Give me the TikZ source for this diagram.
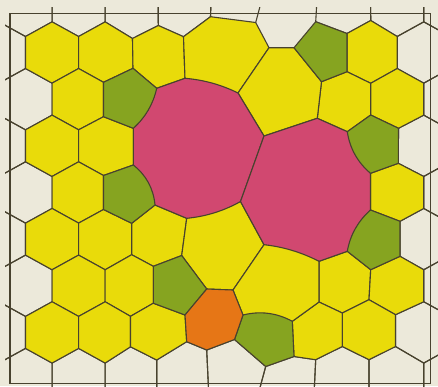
\documentclass[tikz,border=0pt]{standalone}
\definecolor{cCream}{RGB}{236,233,218}
\definecolor{cYel}{RGB}{233,219,10}
\definecolor{cGreen}{RGB}{134,164,32}
\definecolor{cPink}{RGB}{209,72,112}
\definecolor{cOrange}{RGB}{230,118,22}
\definecolor{cLine}{RGB}{72,66,46}
\newcommand\hexcell[3]{%
  \pgfmathtruncatemacro\hxK{2*#2+1-mod(#1+100,2)}%
  \pgfmathtruncatemacro\hxKa{\hxK-1}%
  \pgfmathtruncatemacro\hxKb{\hxK+1}%
  \pgfmathtruncatemacro\hxMa{2*#1-1}%
  \pgfmathtruncatemacro\hxMb{2*#1}%
  \pgfmathtruncatemacro\hxMc{2*#1+1}%
  \pgfmathtruncatemacro\hxMd{2*#1+2}%
  \path[#3] (v\hxK_\hxMa) -- (v\hxKb_\hxMb) -- (v\hxKb_\hxMc) -- (v\hxK_\hxMd) -- (v\hxKa_\hxMc) -- (v\hxKa_\hxMb) -- cycle;%
}
\begin{document}
\begin{tikzpicture}[x=1pt,y=-1pt,
  cell/.style={draw=cLine,line width=1.1pt,line join=round},
  wcell/.style={cell},
  ycell/.style={cell,fill=cYel},
  gcell/.style={cell,fill=cGreen},
  pcell/.style={cell,fill=cPink},
  ocell/.style={cell,fill=cOrange}]
\useasboundingbox (0,0) rectangle (438,386);
\fill[cCream] (0,0) rectangle (438,386);
% lattice vertices
\foreach \k in {-2,...,17}{
  \foreach \m in {-3,...,16}{
    \pgfmathsetmacro\xx{25.5+26.55*\k}
    \pgfmathtruncatemacro\hh{floor(\m/2)}
    \pgfmathsetmacro\yy{36.5+46.65*\hh+32*(\m-2*\hh)}
    \coordinate (v\k_\m) at (\xx,\yy);
  }
}
% distorted vertices
\coordinate (v5_-1) at (158.3,25.5);
\coordinate (v4_0) at (132.5,38.5);
\coordinate (v4_1) at (133,68.3);
\coordinate (v6_0) at (183.5,36.7);
\coordinate (v6_1) at (185,78.3);
\coordinate (v5_2) at (156.7,88.3);
\coordinate (v7_-1) at (210.5,16.7);
\coordinate (v9_-1) at (255.7,22.5);
\coordinate (v11_-1) at (315.7,21.7);
\coordinate (v12_0) at (347,33.5);
\coordinate (v12_1) at (347,71.7);
\coordinate (v13_-1) at (370.7,20.5);
\coordinate (v13_2) at (370.7,83.3);
\coordinate (v3_2) at (103.5,82.3);
\coordinate (v3_3) at (103.5,116.7);
\coordinate (v4_4) at (133.3,128.3);
\coordinate (v11_2) at (321.5,81.7);
\coordinate (v11_3) at (317.3,118.3);
\coordinate (v12_4) at (347.3,131.7);
\coordinate (v13_3) at (370.7,115);
\coordinate (v14_4) at (398.5,128.3);
\coordinate (v3_6) at (103.5,175.5);
\coordinate (v3_7) at (103.5,209.5);
\coordinate (v4_5) at (133.3,165);
\coordinate (v5_7) at (155,205);
\coordinate (v4_8) at (131.7,223.3);
\coordinate (v14_5) at (398.3,163.3);
\coordinate (v13_6) at (370.5,173.3);
\coordinate (v13_7) at (370.5,210);
\coordinate (v14_8) at (400,221.3);
\coordinate (v6_8) at (186.7,218.3);
\coordinate (v6_9) at (181.7,255.5);
\coordinate (v4_9) at (131.7,254.7);
\coordinate (v5_10) at (153.3,266.3);
\coordinate (v14_9) at (400,256.3);
\coordinate (v13_10) at (370.7,269.7);
\coordinate (v12_9) at (347.3,251.3);
\coordinate (v5_11) at (153.3,303.2);
\coordinate (v4_12) at (130.5,316.3);
\coordinate (v4_13) at (130.5,346.8);
\coordinate (v7_10) at (206.7,289);
\coordinate (v6_12) at (185,315);
\coordinate (v11_10) at (319,261.3);
\coordinate (v11_11) at (319,302);
\coordinate (v13_11) at (369,299.7);
\coordinate (v12_12) at (342.3,313);
\coordinate (v14_12) at (395.5,314.7);
\coordinate (v5_14) at (156.7,360);
\coordinate (v6_13) at (186.7,341.7);
\coordinate (v7_14) at (206.7,350);
\coordinate (v8_13) at (234.5,339.5);
\coordinate (v10_12) at (292.3,321.3);
\coordinate (v10_13) at (294,356.5);
\coordinate (v9_14) at (265.7,366.5);
\coordinate (v12_13) at (342.3,346.5);
\coordinate (v11_14) at (315.7,359.7);
\coordinate (v13_14) at (369,359.7);
\coordinate (v14_13) at (395.5,346.5);
\coordinate (v5_15) at (156.7,395);
\coordinate (v7_15) at (208.8,395);
\coordinate (v9_15) at (258,395);
\coordinate (v11_15) at (314,395);
\coordinate (v13_15) at (369,395);
% extra vertices
\coordinate (Pb) at (269,47.7);
\coordinate (Pc) at (238,93);
\coordinate (Pr) at (294,47.7);
\coordinate (Tj) at (264,136);
\coordinate (U1) at (240.5,201.5);
\coordinate (T2) at (264,244.7);
\coordinate (U2) at (233,290);
\coordinate (V1) at (243,315);
\begin{scope}
\clip (5,7) rectangle (438,386);
% white cells
\foreach \j/\i in {-1/0,-1/1,-1/2,-1/3,-1/4,-1/6,-1/7,-1/8,
  0/-1,0/7,1/0,1/8,2/-1,2/7,3/0,3/8,4/-1,4/7,5/0,5/8,6/-1,6/7,
  7/0,7/1,7/2,7/3,7/4,7/5,7/6,7/7,7/8}
  {\hexcell{\j}{\i}{wcell}}
% regular yellow cells
\foreach \j/\i in {0/0,0/1,0/2,0/6,1/1,1/6,1/7,2/0,2/1,3/1,3/7,
  4/0,4/1,4/2,5/1,5/2,5/6,5/7,6/0,6/1,6/2,6/5,6/6}
  {\hexcell{\j}{\i}{ycell}}
% distorted yellow cells
\path[ycell] (v7_-1) -- (v9_-1) -- (Pb) -- (Pc) -- (v6_1) -- (v6_0) -- cycle;
\path[ycell] (Pb) -- (Pr) -- (v11_2) -- (v11_3) -- (Tj) -- (Pc) -- cycle;
\path[ycell] (v6_8) -- (U1) -- (T2) -- (U2) -- (v7_10) -- (v6_9) -- cycle;
% pink cells
\path[pcell] (v5_2) -- (v6_1) .. controls (203.6,79.8) and (221.2,84.7) .. (Pc)
  -- (Tj) -- (U1) .. controls (223.8,210.9) and (205.8,216.5) .. (v6_8)
  -- (v5_7) -- (v4_5) -- (v4_4) -- cycle;
\path[pcell] (Tj) -- (v11_3) -- (v12_4) -- (v13_6) -- (v13_7) -- (v12_9)
  -- (v11_10) -- (T2) -- (U1) -- cycle;
% yellow cell below the pinks
\path[ycell] (U2) -- (T2) .. controls (283.3,246.8) and (301.7,252.4) .. (v11_10)
  -- (v11_11) -- (v10_12) -- (V1) -- cycle;
% green cells
\path[gcell] (v4_1) -- (v5_2) .. controls (153.2,104.1) and (145.4,117.5) .. (v4_4)
  -- (v3_3) -- (v3_2) -- cycle;
\path[gcell] (v11_-1) -- (v12_0) -- (v12_1) -- (v11_2) -- (Pr) -- cycle;
\path[gcell] (v12_4) -- (v13_3) -- (v14_4) -- (v14_5) -- (v13_6)
  .. controls (357.6,162.3) and (349.8,148.5) .. (v12_4) -- cycle;
\path[gcell] (v4_5) -- (v3_6) -- (v3_7) -- (v4_8) -- (v5_7)
  .. controls (153.5,188.6) and (146.2,175.2) .. (v4_5) -- cycle;
\path[gcell] (v13_7) -- (v14_8) -- (v14_9) -- (v13_10) -- (v12_9)
  .. controls (350.2,234.8) and (358,221.1) .. (v13_7) -- cycle;
\path[gcell] (v5_10) -- (v6_9) -- (v7_10) -- (v6_12) -- (v5_11) -- cycle;
\path[gcell] (V1) .. controls (260.2,310.7) and (276.7,312.8) .. (v10_12)
  -- (v10_13) -- (v9_14) -- (v8_13) -- cycle;
% orange cell
\path[ocell] (v7_10) -- (U2) -- (V1) -- (v8_13) -- (v7_14) -- (v6_13) -- (v6_12) -- cycle;
\end{scope}
% frame
\draw[cLine,line width=1.1pt] (10,13.3) rectangle (430.5,383.5);
\end{tikzpicture}
\end{document}
